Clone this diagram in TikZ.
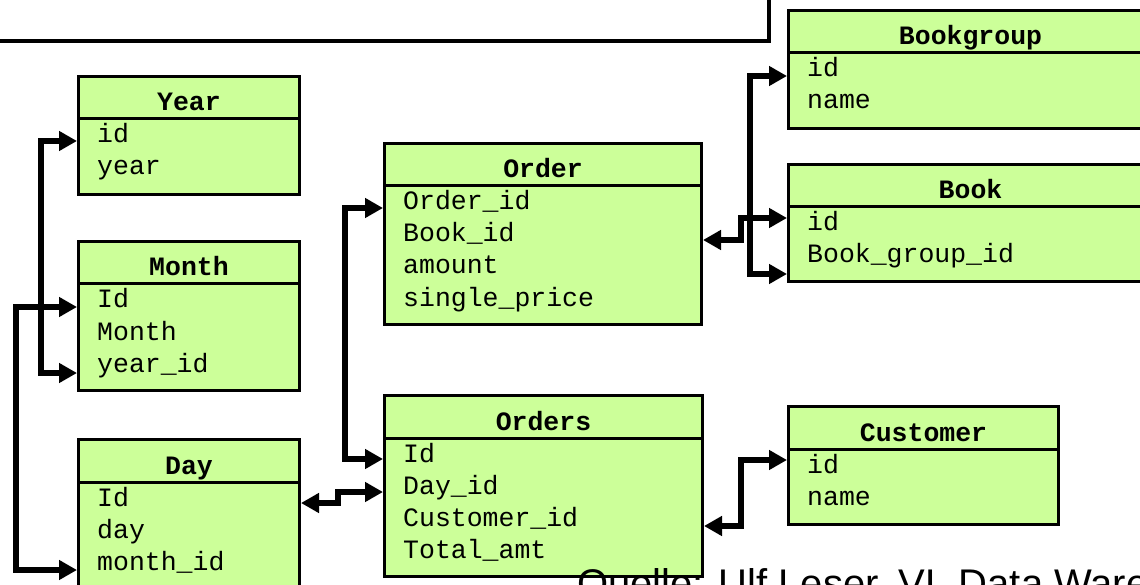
\documentclass[tikz,border=0pt]{standalone}
\usepackage{fontspec}
\setmainfont{Liberation Sans}
\newfontfamily\codefont{Liberation Mono}
\usetikzlibrary{arrows.meta,calc}
\definecolor{tablegreen}{RGB}{204,255,153}
\tikzset{
  tbl/.style={draw=black, fill=tablegreen, line width=3pt, rectangle,
    inner sep=0pt, anchor=north west},
  sepline/.style={line width=3pt},
  hdr/.style={font=\codefont\bfseries\fontsize{26.5}{30}\selectfont,
    inner sep=0pt, anchor=base},
  field/.style={font=\codefont\fontsize{26.5}{30}\selectfont,
    inner sep=0pt, anchor=base west},
  link/.style={line width=5.5pt,
    {Triangle[length=18pt,width=19pt]}-{Triangle[length=18pt,width=19pt]}},
  banner/.style={line width=3.5pt},
}
% table box: name, left, top, width, height, title
\newcommand\dbtable[6]{%
  \node[tbl, minimum width=#4pt, minimum height=#5pt] (#1) at (#2,#3) {};
  \draw[sepline] ([yshift=-44pt]#1.north west) -- ([yshift=-44pt]#1.north east);
  \node[hdr] (#1-title) at ([yshift=-36pt]#1.north) {#6};
}
% field rows of a table: name, list of fields
\newcommand\dbfields[2]{%
  \foreach \f [count=\i] in {#2} {
    \node[field] (#1-f\i) at ([xshift=20pt,yshift={-(36+32*\i)*1pt}]#1.north west) {\f};
  }
}
\begin{document}
\begin{tikzpicture}[x=1pt,y=-1pt]
\useasboundingbox (0,0) rectangle (1140,585);
\fill[white] (0,0) rectangle (1140,585);
\clip (0,0) rectangle (1140,585);

% frame at the top
\draw[banner] (-10,-10) rectangle (769,41);

% tables
\dbtable{year}{77}{75}{221}{118}{Year}
\dbfields{year}{id,year}
\dbtable{month}{77}{240}{221}{149}{Month}
\dbfields{month}{Id,Month,year\_id}
\dbtable{day}{77}{438}{221}{149}{Day}
\dbfields{day}{Id,day,month\_id}
\dbtable{order}{383}{142}{317}{181}{Order}
\dbfields{order}{Order\_id,Book\_id,amount,single\_price}
\dbtable{orders}{383}{394}{318}{181}{Orders}
\dbfields{orders}{Id,Day\_id,Customer\_id,Total\_amt}
\dbtable{bookgroup}{787}{9}{364}{118}{Bookgroup}
\dbfields{bookgroup}{id,name}
\dbtable{book}{787}{163}{364}{117}{Book}
\dbfields{book}{id,Book\_group\_id}
\dbtable{customer}{787}{405}{270}{118}{Customer}
\dbfields{customer}{id,name}

% relations
\draw[link] ([yshift=-66pt]year.north west) -- ++(-36,0) |- ([yshift=-133pt]month.north west);
\draw[link] ([yshift=-67pt]month.north west) -- ++(-61,0) |- ([yshift=-132pt]day.north west);
\draw[link] ([yshift=-66pt]order.north west) -- ++(-38,0) |- ([yshift=-65pt]orders.north west);
\draw[link] ([yshift=-65pt]day.north east) -- ++(37,0) |- ([yshift=-98pt]orders.north west);
\draw[link] ([yshift=-98pt]order.north east) -- ++(38,0) |- ([yshift=-55pt]book.north west);
\draw[link] ([yshift=-67pt]bookgroup.north west) -- ++(-37,0) |- ([yshift=-111pt]book.north west);
\draw[link] ([yshift=-132pt]orders.north east) -- ++(37,0) |- ([yshift=-55pt]customer.north west);

% source line
\node[font=\fontsize{40}{48}\selectfont, anchor=base west, inner sep=0pt]
  (source) at (577,597) {Quelle: Ulf Leser, VL Data Warehouses};
\end{tikzpicture}
\end{document}
